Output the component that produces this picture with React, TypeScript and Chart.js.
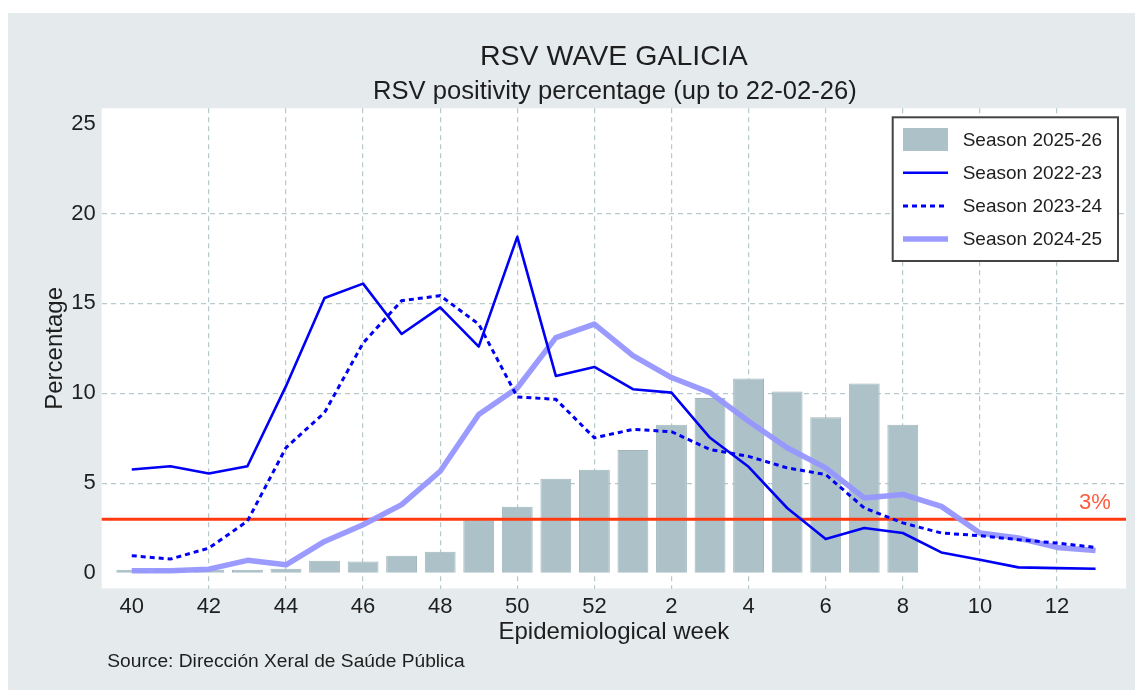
import React, { useEffect, useRef } from "react";
import { Chart, registerables } from "chart.js";

Chart.register(...registerables);

const WEEK_LABELS = ["40","41","42","43","44","45","46","47","48","49","50","51","52","1","2","3","4","5","6","7","8","9","10","11","12","13"];
const X_TICK_INDEXES = [0,2,4,6,8,10,12,14,16,18,20,22,24];
const Y_TICKS = [0,5,10,15,20,25];

const SEASON_2025_26 = [0.2,0.25,0.2,0.2,0.25,0.7,0.65,0.97,1.2,3.0,3.7,5.25,5.75,6.85,8.25,9.75,10.83,10.1,8.68,10.55,8.25];
const SEASON_2022_23 = [5.77,5.95,5.55,5.95,10.4,15.3,16.1,13.3,14.78,12.6,18.7,10.97,11.47,10.23,10.04,7.53,5.92,3.63,1.9,2.52,2.24,1.16,0.75,0.33,0.29,0.25];
const SEASON_2023_24 = [0.98,0.79,1.4,2.9,6.98,8.93,12.8,15.15,15.43,13.85,9.8,9.67,7.53,8.0,7.87,6.88,6.5,5.86,5.49,3.63,2.8,2.24,2.09,1.87,1.68,1.44];
const SEASON_2024_25 = [0.14,0.14,0.23,0.72,0.47,1.77,2.7,3.82,5.67,8.83,10.3,13.1,13.85,12.1,10.88,10.04,8.45,6.98,5.86,4.19,4.38,3.72,2.24,1.96,1.44,1.27];
const THRESHOLD = 3;
const THRESHOLD_LABEL = "3%";

const TITLE = "RSV WAVE GALICIA";
const SUBTITLE = "RSV positivity percentage (up to 22-02-26)";
const X_TITLE = "Epidemiological week";
const Y_TITLE = "Percentage";
const SOURCE = "Source: Dirección Xeral de Saúde Pública";

const FONT = "'Liberation Sans', Arial, sans-serif";
const TEXT = "#1e1e1e";
const GRID = "#b7c9cd";
const BAR_FILL = "#adc2c8";
const BAR_BORDER = "#a0b6bc";
const BLUE = "#0000f5";
const PURPLE = "rgba(150,150,255,0.95)";
const RED = "#ff3a10";

const toPoints = (arr: number[]) => arr.map((v, i) => ({ x: i, y: v }));

const decorPlugin = {
  id: "decor",
  beforeDraw(chart: any) {
    const { ctx, chartArea: a } = chart;
    ctx.save();
    ctx.fillStyle = "#ffffff";
    ctx.fillRect(a.left, a.top, a.right - a.left, a.bottom - a.top);
    ctx.restore();
  },
  afterDatasetDraw(chart: any, args: any) {
    if (args.index !== 0) return;
    const { ctx, chartArea: a } = chart;
    const y = chart.scales.y.getPixelForValue(THRESHOLD);
    ctx.save();
    ctx.strokeStyle = RED;
    ctx.lineWidth = 3;
    ctx.beginPath();
    ctx.moveTo(a.left, y);
    ctx.lineTo(a.right, y);
    ctx.stroke();
    ctx.restore();
  },
  afterDraw(chart: any) {
    const { ctx, chartArea: a } = chart;
    const cx = (a.left + a.right) / 2;
    ctx.save();
    ctx.fillStyle = TEXT;
    ctx.textAlign = "center";
    ctx.textBaseline = "alphabetic";
    ctx.font = `28.5px ${FONT}`;
    ctx.fillText(TITLE, cx, 51.5);
    ctx.font = `25.6px ${FONT}`;
    ctx.fillText(SUBTITLE, cx + 1, 85.5);
    ctx.font = `24px ${FONT}`;
    ctx.fillText(X_TITLE, cx, 626);
    ctx.save();
    ctx.translate(47, (a.top + a.bottom) / 2);
    ctx.rotate(-Math.PI / 2);
    ctx.textBaseline = "middle";
    ctx.fillText(Y_TITLE, 0, 0);
    ctx.restore();
    ctx.textAlign = "left";
    ctx.font = `19.2px ${FONT}`;
    ctx.fillText(SOURCE, 99.3, 653.7);

    // threshold label
    const ty = chart.scales.y.getPixelForValue(THRESHOLD);
    ctx.fillStyle = "#ff5a3c";
    ctx.font = `22px ${FONT}`;
    ctx.textAlign = "center";
    ctx.fillText(THRESHOLD_LABEL, 1087, ty - 10);

    // legend
    const bx = 884.7, by = 104.3, bw = 225.3, bh = 143.7;
    ctx.fillStyle = "#ffffff";
    ctx.fillRect(bx, by, bw, bh);
    ctx.strokeStyle = "#444444";
    ctx.lineWidth = 2;
    ctx.strokeRect(bx, by, bw, bh);
    const rowY0 = 126.5, rowStep = 33.2;
    chart.data.datasets.forEach((ds: any, i: number) => {
      const y = rowY0 + i * rowStep;
      if (ds.type === "bar") {
        ctx.fillStyle = ds.backgroundColor;
        ctx.fillRect(895, y - 11.5, 45, 23);
      } else {
        ctx.save();
        ctx.strokeStyle = ds.borderColor;
        ctx.lineWidth = ds.borderWidth;
        ctx.setLineDash(ds.borderDash || []);
        ctx.beginPath();
        ctx.moveTo(895, y);
        ctx.lineTo(940, y);
        ctx.stroke();
        ctx.restore();
      }
      ctx.fillStyle = TEXT;
      ctx.font = `19px ${FONT}`;
      ctx.textAlign = "left";
      ctx.textBaseline = "middle";
      ctx.fillText(ds.label, 954.7, y + 1);
    });
    ctx.restore();
  },
};

export default function App() {
  const ref = useRef<HTMLCanvasElement | null>(null);
  useEffect(() => {
    if (!ref.current) return;
    const chart = new Chart(ref.current, {
      type: "line",
      data: {
        datasets: [
          {
            type: "bar",
            label: "Season 2025-26",
            data: toPoints(SEASON_2025_26),
            backgroundColor: BAR_FILL,
            borderColor: BAR_BORDER,
            borderWidth: 1,
            barPercentage: 0.8,
            categoryPercentage: 1,
            order: 10,
          } as any,
          {
            type: "line",
            label: "Season 2022-23",
            data: toPoints(SEASON_2022_23),
            borderColor: BLUE,
            borderWidth: 2.6,
            pointRadius: 0,
            tension: 0,
            borderJoinStyle: "round",
            order: 1,
          },
          {
            type: "line",
            label: "Season 2023-24",
            data: toPoints(SEASON_2023_24),
            borderColor: BLUE,
            borderWidth: 3,
            borderDash: [5, 4],
            pointRadius: 0,
            tension: 0,
            order: 2,
          },
          {
            type: "line",
            label: "Season 2024-25",
            data: toPoints(SEASON_2024_25),
            borderColor: PURPLE,
            borderWidth: 5.5,
            pointRadius: 0,
            tension: 0,
            borderJoinStyle: "round",
            order: 3,
          },
        ],
      },
      options: {
        responsive: false,
        animation: false,
        events: [],
        layout: { padding: { left: 0, top: 95.3, right: 9, bottom: 0 } },
        plugins: { legend: { display: false }, title: { display: false }, tooltip: { enabled: false } },
        scales: {
          x: {
            type: "linear",
            min: -0.78,
            max: 25.79,
            offset: false,
            border: { display: false, dash: [5, 4] },
            grid: {
              offset: false,
              drawTicks: false,
              color: (c: any) => (c.tick && c.tick.value === 0 ? "rgba(0,0,0,0)" : GRID),
              lineWidth: 1.2,
            } as any,
            ticks: {
              autoSkip: false,
              maxRotation: 0,
              padding: 5,
              color: TEXT,
              font: { family: FONT, size: 22 },
              callback: (v: any) => WEEK_LABELS[v as number],
            },
            afterBuildTicks: (s: any) => {
              s.ticks = X_TICK_INDEXES.map((v) => ({ value: v }));
            },
            afterFit: (s: any) => {
              s.height = 101.5;
            },
          },
          y: {
            type: "linear",
            min: -0.845,
            max: 25.845,
            border: { display: false, dash: [5, 4] },
            grid: {
              drawTicks: false,
              color: (c: any) => (c.tick && (c.tick.value === 0 || c.tick.value === 25) ? "rgba(0,0,0,0)" : GRID),
              lineWidth: 1.2,
            } as any,
            ticks: {
              padding: 6,
              color: TEXT,
              font: { family: FONT, size: 22 },
            },
            afterBuildTicks: (s: any) => {
              s.ticks = Y_TICKS.map((v) => ({ value: v }));
            },
            afterFit: (s: any) => {
              s.width = 93.7;
            },
          },
        },
      },
      plugins: [decorPlugin],
    });
    return () => chart.destroy();
  }, []);

  return (
    <div
      style={{
        position: "absolute",
        left: 8,
        top: 13,
        width: 1127,
        height: 677,
        background: "#e5ebed",
      }}
    >
      <canvas ref={ref} width={1127} height={677} style={{ display: "block" }} />
    </div>
  );
}
